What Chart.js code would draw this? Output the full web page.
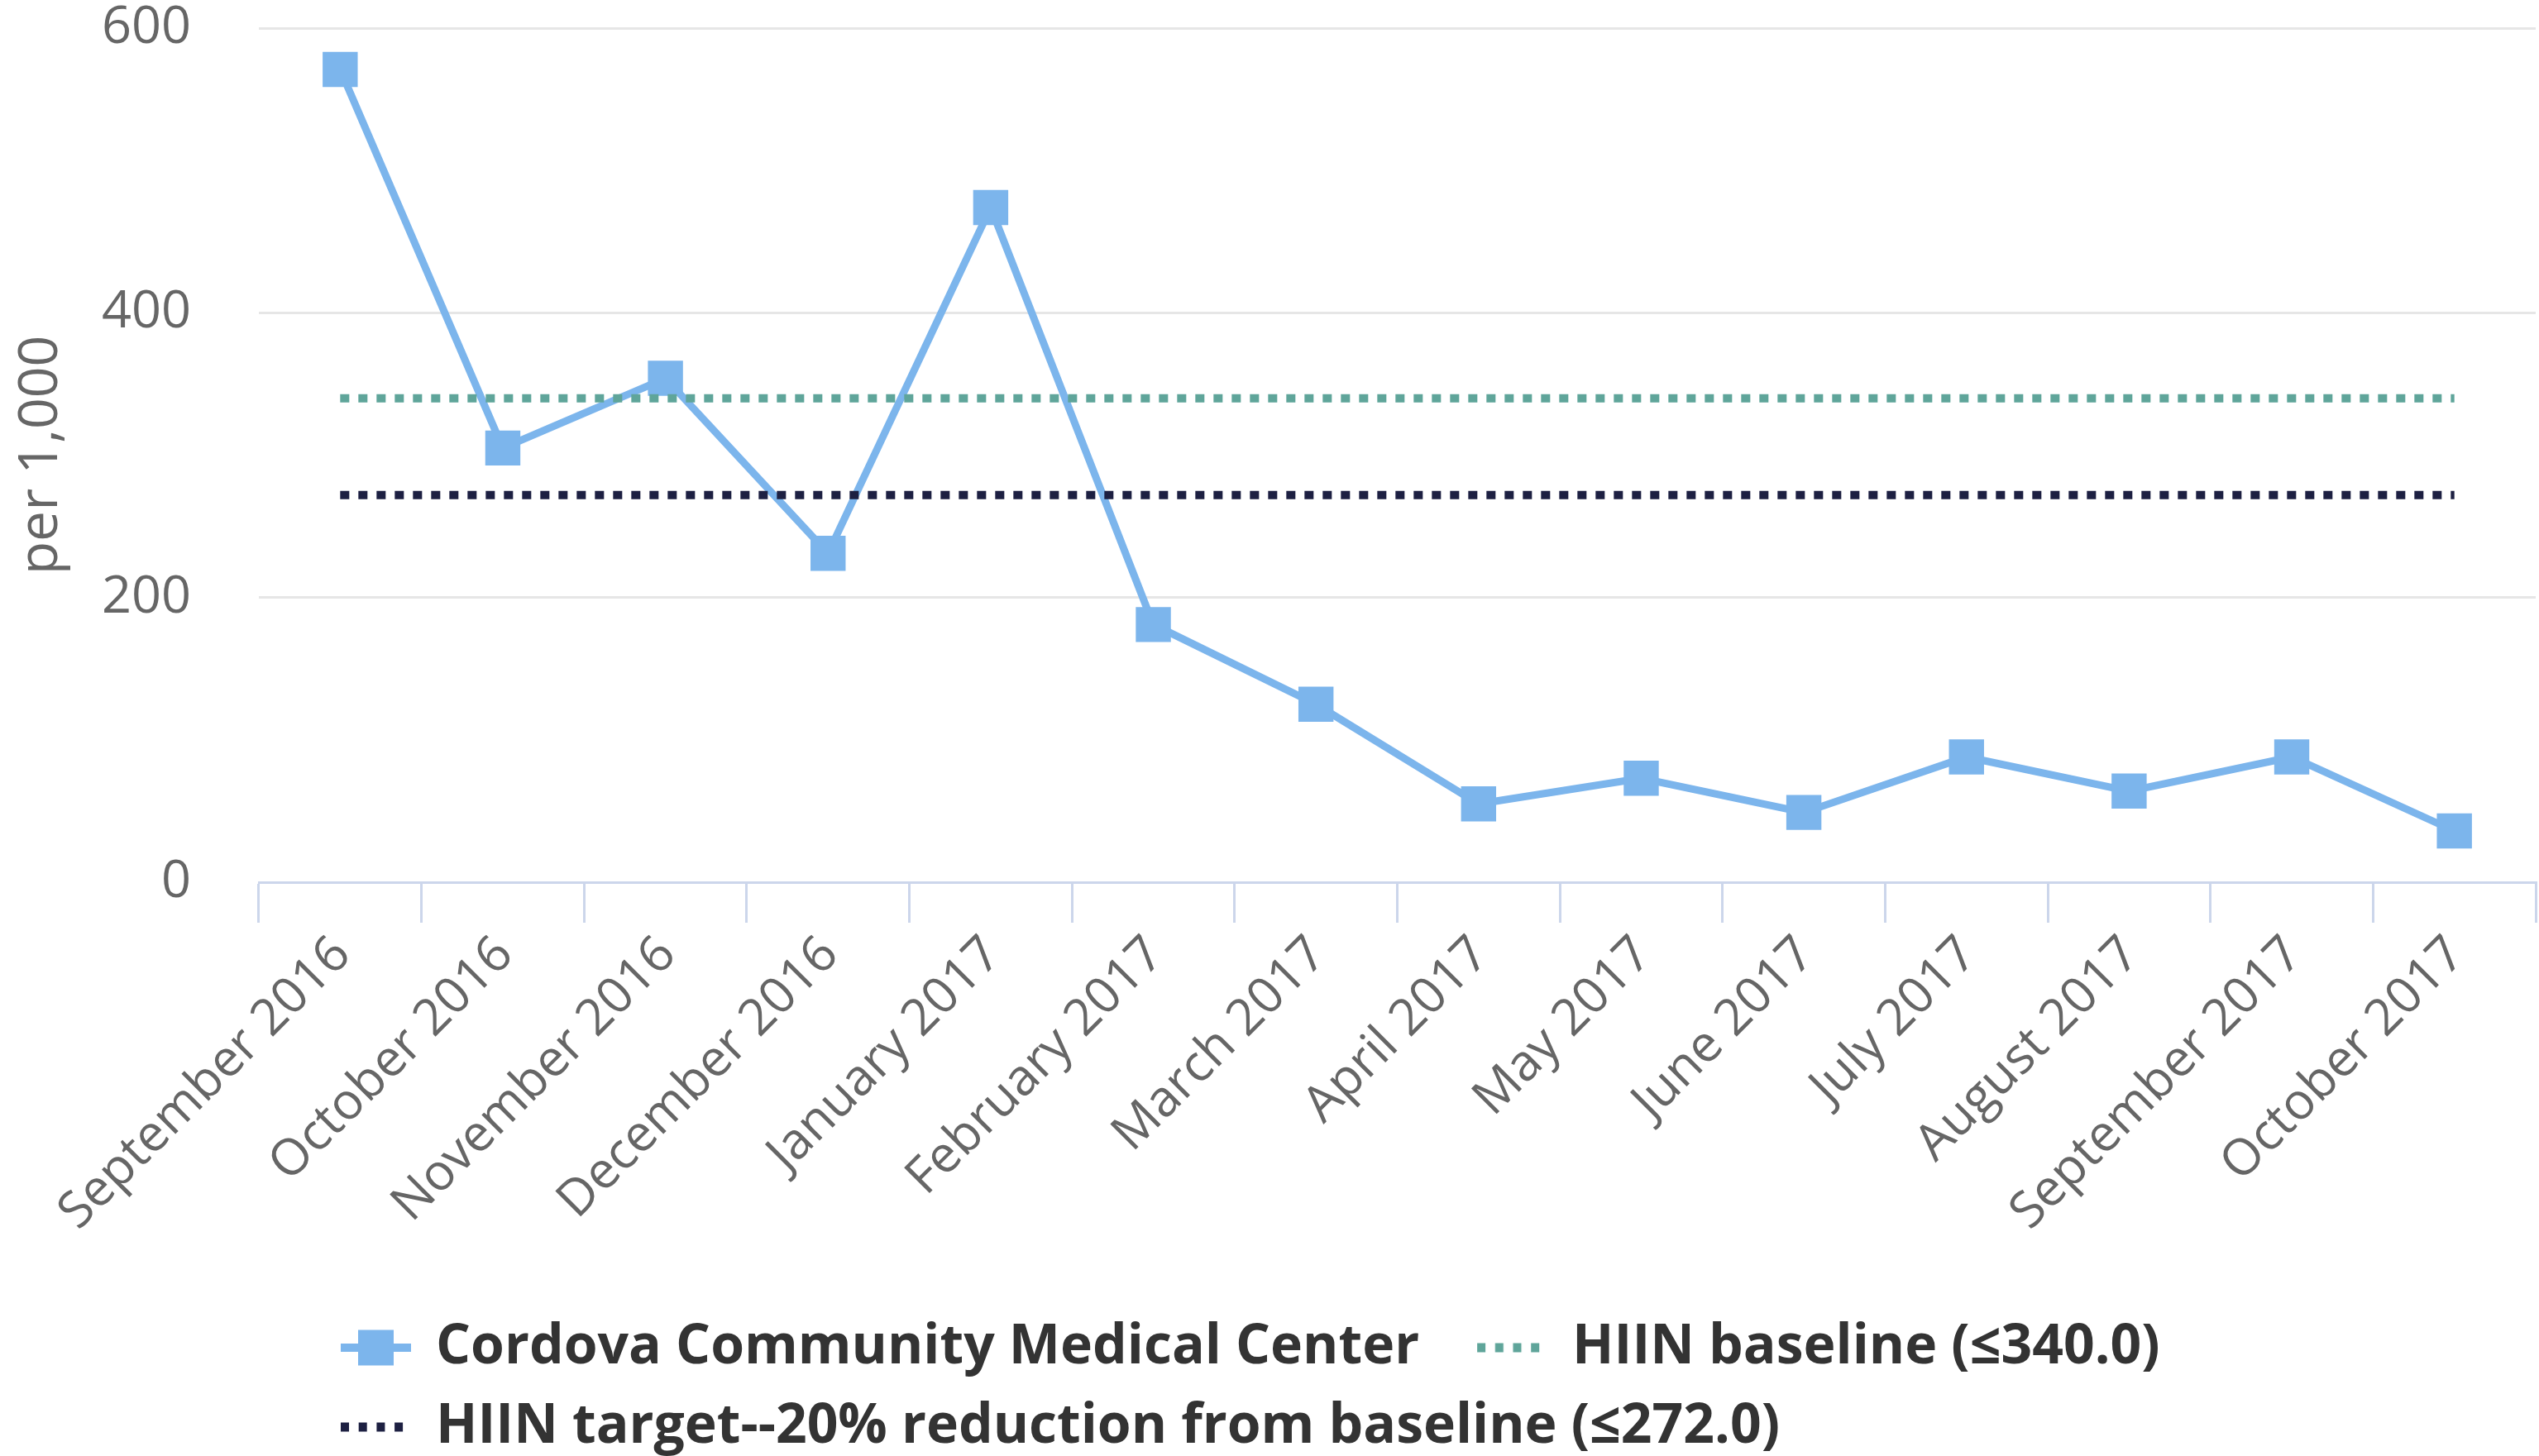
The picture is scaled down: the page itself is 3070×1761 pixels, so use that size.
<!DOCTYPE html>
<html>
<head>
<meta charset="utf-8">
<script src="https://cdn.jsdelivr.net/npm/chart.js@4.4.1/dist/chart.umd.min.js"></script>
<style>
  html, body { margin: 0; padding: 0; background: #ffffff; overflow: hidden; }
  #wrap { width: 3070px; height: 1761px; position: relative; }
</style>
</head>
<body>
<div id="wrap"><canvas id="chart"></canvas></div>
<script>
// ---- data ----
const categories = [
  "September 2016", "October 2016", "November 2016", "December 2016",
  "January 2017", "February 2017", "March 2017", "April 2017",
  "May 2017", "June 2017", "July 2017", "August 2017",
  "September 2017", "October 2017"
];
const facilityValues = [571, 305, 354, 231, 474, 181, 125, 55, 73, 49, 88, 64, 88, 36];
const baselineValues = [340, 340, 340, 340, 340, 340, 340, 340, 340, 340, 340, 340, 340, 340];
const targetValues   = [272, 272, 272, 272, 272, 272, 272, 272, 272, 272, 272, 272, 272, 272];
const yTickValues = [0, 200, 400, 600];
const seriesNames = [
  "Cordova Community Medical Center",
  "HIIN baseline (\u2264340.0)",
  "HIIN target--20% reduction from baseline (\u2264272.0)"
];
const yAxisTitle = "per 1,000";

// ---- styles ----
const FONT = "'Open Sans', 'DejaVu Sans', sans-serif";
const C_MAIN = '#7cb5ec';
const C_BASE = '#5fa59a';
const C_TARGET = '#1d2042';
const C_AXIS = '#ccd6eb';
const C_GRID = '#e6e6e6';
const C_LABEL = '#666666';
const TARGET_RIGHT = 3066;

function makeIcon(kind, color) {
  const c = document.createElement('canvas');
  c.width = 140; c.height = 50;
  const g = c.getContext('2d');
  const ox = 9;
  g.fillStyle = color;
  if (kind === 'line') {
    g.fillRect(40 + ox, 20, 85, 10);
    g.fillRect(82.5 + ox - 21.5, 25 - 21.5, 43, 43);
  } else {
    for (let k = 0; k < 4; k++) g.fillRect(40 + ox + k * 21.7, 19.5, 10, 11);
  }
  return c;
}
const legendIcons = [makeIcon('line', C_MAIN), makeIcon('dots', C_BASE), makeIcon('dots', C_TARGET)];

const legendPlacer = {
  id: 'legendPlacer',
  afterLayout(chart) {
    const lg = chart.legend;
    if (!lg) return;
    lg.left = 342;
    lg.top = 1567;
  }
};

Chart.defaults.font.family = FONT;

const chart = new Chart(document.getElementById('chart'), {
  type: 'line',
  data: {
    labels: categories,
    datasets: [
      {
        label: seriesNames[0],
        data: facilityValues,
        borderColor: C_MAIN,
        backgroundColor: C_MAIN,
        borderWidth: 9,
        pointStyle: 'rect',
        pointRadius: 30,
        pointBorderWidth: 0,
        pointBackgroundColor: C_MAIN,
        tension: 0,
        order: 3
      },
      {
        label: seriesNames[1],
        data: baselineValues,
        borderColor: C_BASE,
        backgroundColor: C_BASE,
        borderWidth: 10,
        borderDash: [11, 11],
        pointRadius: 0,
        tension: 0,
        order: 2
      },
      {
        label: seriesNames[2],
        data: targetValues,
        borderColor: C_TARGET,
        backgroundColor: C_TARGET,
        borderWidth: 10,
        borderDash: [11, 11],
        pointRadius: 0,
        tension: 0,
        order: 1
      }
    ]
  },
  options: {
    responsive: true,
    maintainAspectRatio: false,
    animation: false,
    events: [],
    layout: { padding: { top: 34, right: 4, bottom: 0, left: 0 } },
    scales: {
      x: {
        type: 'category',
        offset: true,
        grid: {
          display: true,
          offset: true,
          drawOnChartArea: false,
          drawTicks: true,
          tickLength: 49,
          color: C_AXIS,
          tickColor: C_AXIS,
          lineWidth: 3,
          tickWidth: 3
        },
        border: { display: true, color: C_AXIS, width: 3 },
        ticks: {
          autoSkip: false,
          minRotation: 45,
          maxRotation: 45,
          padding: 3,
          labelOffset: 3,
          color: C_LABEL,
          font: { size: 61, family: FONT }
        },
        afterFit(scale) {
          scale.height = 492;
          scale.paddingLeft = 0;
          scale.paddingRight = 0;
        }
      },
      y: {
        min: 0,
        max: 600,
        afterBuildTicks(scale) {
          scale.ticks = yTickValues.map(v => ({ value: v }));
        },
        grid: {
          drawTicks: false,
          color: (ctx) => (ctx.tick && ctx.tick.value === 0 ? 'rgba(0,0,0,0)' : C_GRID),
          lineWidth: 3
        },
        border: { display: false },
        ticks: {
          padding: 82,
          color: C_LABEL,
          font: { size: 63, family: FONT }
        },
        title: {
          display: true,
          text: yAxisTitle,
          color: C_LABEL,
          font: { size: 66, family: FONT },
          padding: { top: 11, bottom: 0 }
        },
        afterFit(scale) {
          scale.width = 313;
          scale.paddingTop = 0;
          scale.paddingBottom = 0;
        }
      }
    },
    plugins: {
      tooltip: { enabled: false },
      legend: {
        display: true,
        position: 'bottom',
        align: 'start',
        labels: {
          usePointStyle: true,
          pointStyleWidth: 122,
          padding: 30,
          color: '#333333',
          font: { size: 66, weight: 'bold', family: FONT },
          generateLabels(chart) {
            return chart.data.datasets.map((ds, i) => ({
              text: ds.label,
              fillStyle: ds.borderColor,
              strokeStyle: ds.borderColor,
              lineWidth: 0,
              pointStyle: legendIcons[i],
              hidden: false,
              datasetIndex: i,
              fontColor: '#333333'
            }));
          }
        }
      }
    }
  },
  plugins: [legendPlacer]
});

// keep the plot area's right edge where the reference has it
const diff = TARGET_RIGHT - chart.chartArea.right;
if (Math.abs(diff) > 0.5) {
  document.getElementById('wrap').style.width = (3070 + diff) + 'px';
  chart.resize();
}
</script>
</body>
</html>
